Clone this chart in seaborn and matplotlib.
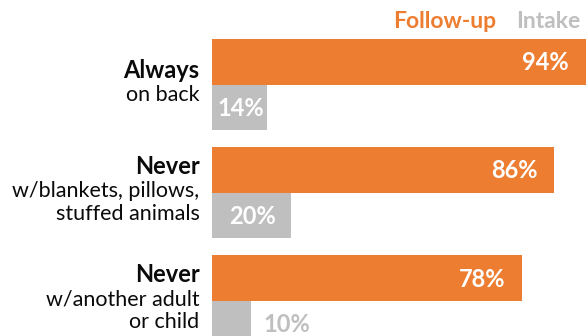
import matplotlib
matplotlib.use("Agg")
import matplotlib.pyplot as plt
import matplotlib.transforms as mtransforms
import seaborn as sns
import pandas as pd

# ---- data ----
categories = ["Always", "Never (bedding)", "Never (co-sleep)"]
title_lines = ["Always", "Never", "Never"]
sub_lines = [["on back"],
             ["w/blankets, pillows,", "stuffed animals"],
             ["w/another adult", "or child"]]
periods = ["Follow-up", "Intake"]
followup_values = [94, 86, 78]
intake_values = [14, 20, 10]

ORANGE = "#ED7D31"
GRAY = "#BFBFBF"

df = pd.DataFrame({
    "category": categories * 2,
    "period": [periods[0]] * 3 + [periods[1]] * 3,
    "value": followup_values + intake_values,
})

sns.set_theme(style="white")
plt.rcParams["font.family"] = ["Lato", "DejaVu Sans"]

W, H = 588, 336
fig = plt.figure(figsize=(W / 100, H / 100), dpi=100)
left_px = 211.5
ax = fig.add_axes([left_px / W, 0, (W - left_px) / W, 1])

sns.barplot(data=df, x="value", y="category", hue="period", orient="h",
            order=categories, hue_order=periods,
            palette=[ORANGE, GRAY], saturation=1, width=0.84, gap=0,
            linewidth=0, legend=False, ax=ax)

ax.set_xlim(0, 94.6)
ax.set_ylim(2.3265, -0.7817)
ax.set_axis_off()

FS_TITLE = 17
FS_SUB = 15.5
FS_VAL = 17
FS_LEG = 16.5

def px_offset(dx, dy):
    # dy in pixels downward
    return mtransforms.offset_copy(ax.transData, fig=fig, x=dx * 0.72, y=-dy * 0.72, units="points")

# value labels
for cont, vals in zip(ax.containers, [followup_values, intake_values]):
    for rect, v in zip(cont, vals):
        yc = rect.get_y() + rect.get_height() / 2
        if v >= 30:
            ax.text(v, yc, f"{v}%", transform=px_offset(-16.5, 8.5), ha="right", va="baseline",
                    color="white", fontsize=FS_VAL, fontweight="bold")
        elif v >= 12:
            ax.text(v / 2, yc, f"{v}%", transform=px_offset(1.5, 8.5), ha="center", va="baseline",
                    color="white", fontsize=FS_VAL, fontweight="bold")
        else:
            ax.text(v, yc, f"{v}%", transform=px_offset(12, 8.5), ha="left", va="baseline",
                    color=GRAY, fontsize=FS_VAL, fontweight="bold")

# category labels (left of axis)
label_tr_base = mtransforms.blended_transform_factory(fig.transFigure, ax.transData)
for gi in range(len(categories)):
    lines = [(title_lines[gi], "bold", FS_TITLE)] + [(s, "normal", FS_SUB) for s in sub_lines[gi]]
    n = len(lines)
    for li, (txt, wt, fs) in enumerate(lines):
        dy = 4.5 + 23 * (li - (n - 1) / 2)
        tr = mtransforms.offset_copy(label_tr_base, fig=fig, x=0, y=-dy * 0.72, units="points")
        fig.text(199.5 / W, gi, txt, transform=tr, ha="right", va="baseline",
                 fontsize=fs, fontweight=wt, color="#0a0a0a")

# legend as coloured words
fig.text(496 / W, 1 - 28 / H, "Follow-up", ha="right", va="baseline",
         fontsize=FS_LEG, fontweight="bold", color=ORANGE)
fig.text(580.5 / W, 1 - 28 / H, "Intake", ha="right", va="baseline",
         fontsize=FS_LEG, fontweight="bold", color=GRAY)

fig.savefig("out.png", dpi=100)
